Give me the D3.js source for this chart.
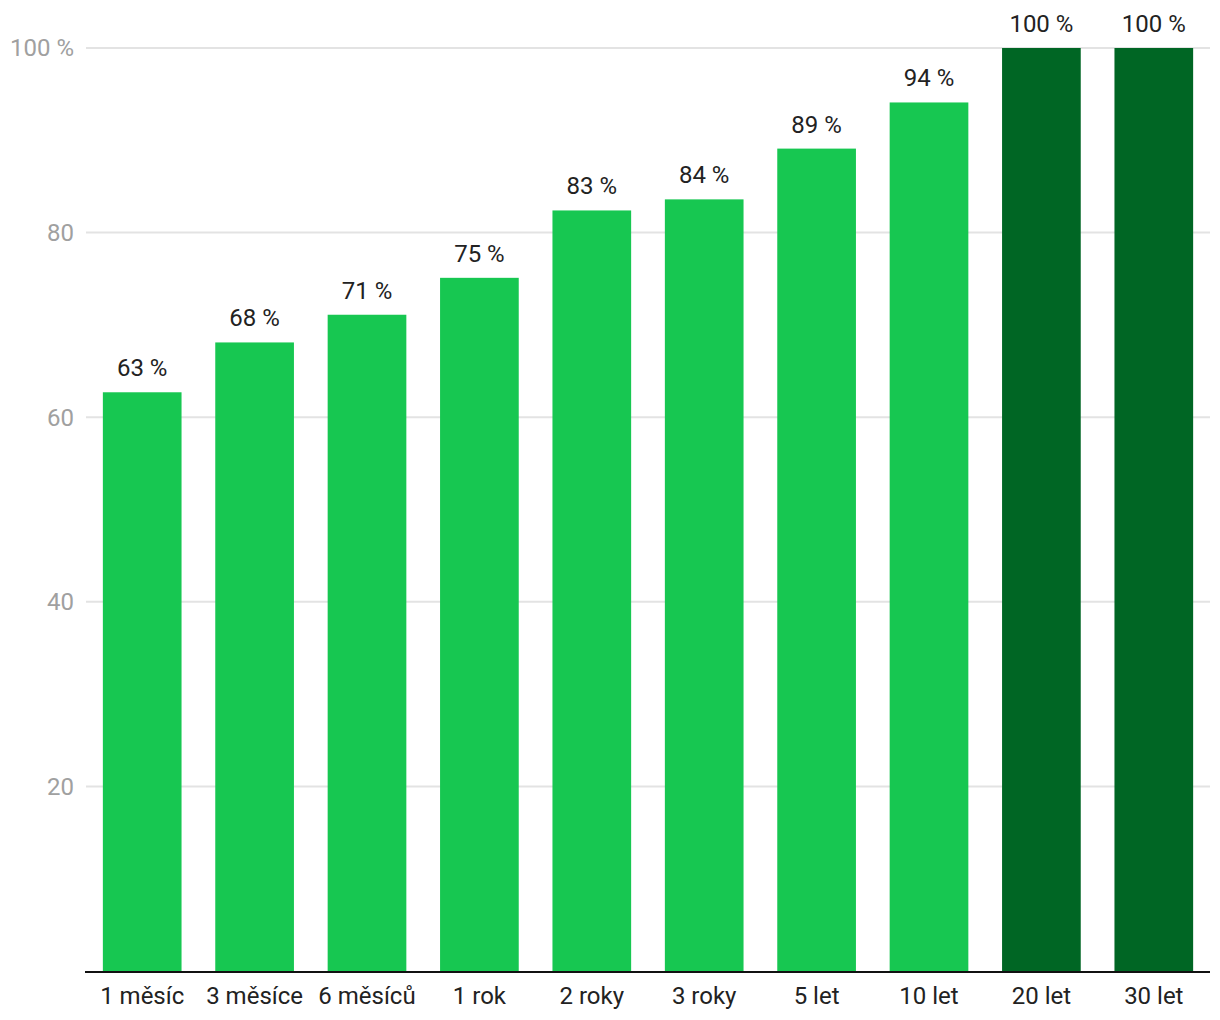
<!DOCTYPE html>
<html><head><meta charset="utf-8">
<script src="https://cdn.jsdelivr.net/npm/d3@7"></script>
<style>body{margin:0;background:#fff;font-family:Roboto,sans-serif}</style>
</head><body><svg id="c" width="1220" height="1020"></svg>
<script>
const categories = ["1 měsíc","3 měsíce","6 měsíců","1 rok","2 roky","3 roky","5 let","10 let","20 let","30 let"];
const values = [62.7, 68.1, 71.1, 75.1, 82.4, 83.6, 89.1, 94.1, 100, 100];
const labels = ["63 %","68 %","71 %","75 %","83 %","84 %","89 %","94 %","100 %","100 %"];
const highlight = [false,false,false,false,false,false,false,false,true,true];
const yTicks = [20,40,60,80,100];
const yTickLabels = ["20","40","60","80","100 %"];

const svg = d3.select("#c");
const L = 86, R = 1210, T = 48, B = 971;
const x = d3.scaleBand().domain(categories).range([L, R]).paddingInner(0.3).paddingOuter(0.15);
const y = d3.scaleLinear().domain([0, 100]).range([B, T]);

svg.append("g").selectAll("line").data(yTicks).join("line")
  .attr("x1", L).attr("x2", R).attr("y1", d => y(d)).attr("y2", d => y(d))
  .attr("stroke", "#e3e3e3").attr("stroke-width", 2);
svg.append("g").selectAll("text").data(yTicks).join("text")
  .attr("x", 74).attr("y", d => y(d)).attr("dy", "0.35em").attr("text-anchor", "end")
  .attr("fill", "#a0a0a0").attr("font-size", 24).text((d, i) => yTickLabels[i]);

svg.append("g").selectAll("rect").data(values).join("rect")
  .attr("x", (d, i) => x(categories[i])).attr("width", x.bandwidth())
  .attr("y", d => y(d)).attr("height", d => B - y(d))
  .attr("fill", (d, i) => highlight[i] ? "#006624" : "#17c751");

svg.append("g").selectAll("text").data(values).join("text")
  .attr("x", (d, i) => x(categories[i]) + x.bandwidth() / 2).attr("y", d => y(d) - 16)
  .attr("text-anchor", "middle").attr("fill", "#222").attr("font-size", 24)
  .text((d, i) => labels[i]);

svg.append("line").attr("x1", L - 1).attr("x2", R).attr("y1", B + 1).attr("y2", B + 1)
  .attr("stroke", "#111").attr("stroke-width", 2);

svg.append("g").selectAll("text").data(categories).join("text")
  .attr("x", d => x(d) + x.bandwidth() / 2).attr("y", 1004)
  .attr("text-anchor", "middle").attr("fill", "#222").attr("font-size", 24).text(d => d);
</script></body></html>
